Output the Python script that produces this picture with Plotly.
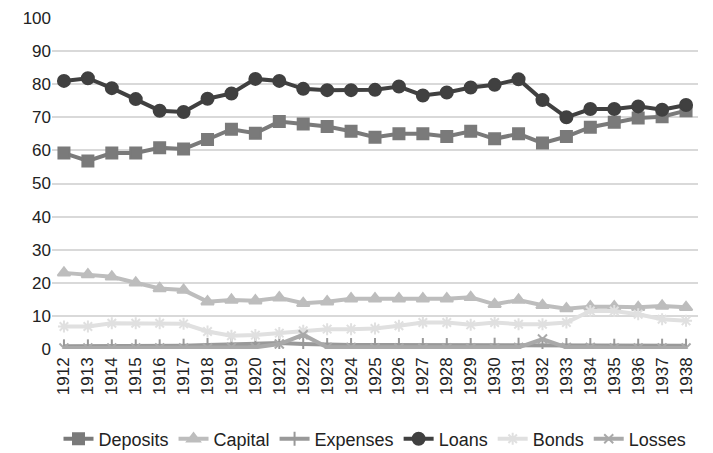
import plotly.graph_objects as go

years = [str(y) for y in range(1912, 1939)]
deposits = [59.2, 56.8, 59.2, 59.2, 60.8, 60.4, 63.3, 66.4, 65.2, 68.7, 68.0, 67.2, 65.8, 64.0, 65.0, 65.0, 64.2, 65.8, 63.5, 65.0, 62.2, 64.2, 67.0, 68.5, 69.8, 70.2, 72.0]
capital = [23.0, 22.5, 21.8, 20.0, 18.3, 17.8, 14.3, 14.8, 14.6, 15.5, 13.8, 14.3, 15.2, 15.2, 15.2, 15.2, 15.2, 15.6, 13.5, 14.8, 13.2, 12.2, 12.8, 12.8, 12.6, 13.0, 12.6]
expenses = [0.8, 0.8, 0.8, 0.8, 0.8, 1.0, 1.2, 1.5, 1.7, 1.8, 1.5, 1.2, 1.2, 1.2, 1.2, 1.2, 1.2, 1.2, 1.3, 1.3, 1.2, 1.2, 1.2, 1.0, 1.0, 1.0, 1.0]
loans = [81.0, 81.8, 78.8, 75.5, 72.0, 71.6, 75.6, 77.2, 81.6, 81.0, 78.6, 78.2, 78.2, 78.3, 79.3, 76.6, 77.5, 79.0, 79.8, 81.5, 75.2, 70.0, 72.5, 72.5, 73.3, 72.3, 73.7]
bonds = [6.8, 6.8, 7.8, 7.8, 7.8, 7.6, 5.3, 4.0, 4.2, 4.8, 5.5, 6.0, 6.0, 6.2, 7.0, 8.0, 8.0, 7.3, 8.0, 7.5, 7.5, 8.0, 11.5, 11.5, 10.5, 9.0, 8.5]
losses = [0.3, 0.3, 0.3, 0.3, 0.3, 0.3, 0.3, 0.5, 0.5, 1.5, 4.3, 0.5, 0.5, 0.3, 0.3, 0.3, 0.3, 0.3, 0.3, 0.5, 3.0, 0.5, 0.5, 0.3, 0.3, 0.3, 0.3]

series = [
    ("Deposits", deposits, "#7a7a7a", "square", 11),
    ("Capital", capital, "#bdbdbd", "triangle-up", 11),
    ("Expenses", expenses, "#999999", "line-ns", 10),
    ("Loans", loans, "#404040", "circle", 12),
    ("Bonds", bonds, "#e0e0e0", "asterisk", 10),
    ("Losses", losses, "#a9a9a9", "x-thin", 9),
]

fig = go.Figure()
for name, vals, color, sym, size in series:
    fig.add_trace(go.Scatter(
        x=years, y=vals, name=name, mode="lines+markers",
        line=dict(color=color, width=4),
        marker=dict(symbol=sym, size=size, color=color,
                    line=dict(color=color, width=2)),
    ))

fig.update_layout(
    width=705, height=445,
    margin=dict(l=44, r=15, t=10, b=104, autoexpand=False),
    paper_bgcolor="white", plot_bgcolor="white",
    font=dict(family="Liberation Sans, Arial, sans-serif", size=17, color="#222222"),
    showlegend=True,
    legend=dict(orientation="h", x=0.5, xanchor="center", y=-0.272, yanchor="middle",
                font=dict(size=18), itemwidth=30, tracegroupgap=0, bgcolor="rgba(0,0,0,0)"),
)
fig.update_xaxes(type="category", tickangle=-90, showgrid=False, showline=False,
                 ticks="", tickfont=dict(size=17), automargin=False, ticklabelstandoff=4,
                 range=[-0.5, len(years) - 0.5])
fig.update_yaxes(range=[0, 100], dtick=10, gridcolor="#d9d9d9", gridwidth=1.5,
                 zeroline=False, showline=False, ticks="", tickfont=dict(size=17),
                 automargin=False)

fig.write_html("out.html")
